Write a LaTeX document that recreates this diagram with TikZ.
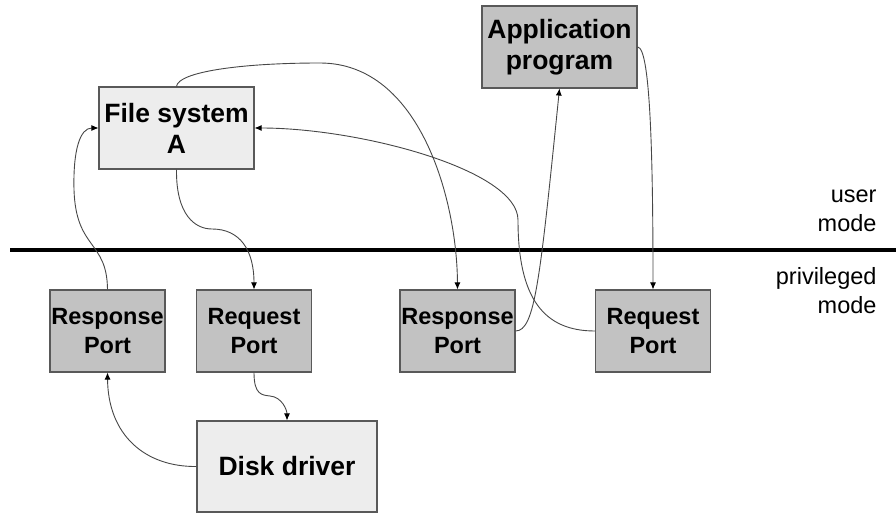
\documentclass[tikz,border=0pt]{standalone}
\usepackage{fontspec}
\setmainfont{Liberation Sans}
\usetikzlibrary{arrows.meta}
\begin{document}
\begin{tikzpicture}[x=1pt,y=-1pt,
  box/.style={draw=black!65,line width=1.1pt,inner sep=0pt,align=center,
    font=\fontsize{26.5}{31}\selectfont\bfseries},
  light/.style={box,fill=black!7},
  dark/.style={box,fill=black!24},
  port/.style={dark,minimum width=115pt,minimum height=82pt,
    font=\fontsize{23.5}{29}\selectfont\bfseries},
  modetext/.style={anchor=east,align=right,font=\fontsize{23.5}{29}\selectfont},
  link/.style={draw=black!72,line width=0.9pt,
    -{Latex[length=7pt,width=6pt,color=black]}}]
\useasboundingbox (0,0) rectangle (896,513);

% user / privileged boundary
\draw[line width=4pt] (10,250) -- (896,250);
\node[modetext] (um) at (880,211) {user\\mode};
\node[modetext] (pm) at (880,291) {privileged\\mode};

% boxes
\node[light,minimum width=155pt,minimum height=82pt] (fs) at (176.5,128) {File system\\A};
\node[dark,minimum width=155pt,minimum height=82pt] (app) at (559.5,47) {Application\\program};
\node[port] (rsL) at (107.5,331) {Response\\Port};
\node[port] (rqL) at (254,331) {Request\\Port};
\node[port] (rsR) at (457.5,331) {Response\\Port};
\node[port] (rqR) at (653,331) {Request\\Port};
\node[light,minimum width=180pt,minimum height=91pt] (dd) at (287,466.5) {Disk driver};

% connectors
\draw[link] (rsL.north) .. controls (107,240) and (76,250) .. (74,190)
  .. controls (73,150) and (80,128) .. (fs.west);
\draw[link] (fs.south) .. controls (176,215) and (195,229) .. (212,229)
  .. controls (240,229) and (254,250) .. (rqL.north);
\draw[link] (fs.north) .. controls (178,72) and (240,63) .. (320,63)
  .. controls (420,63) and (457,200) .. (rsR.north);
\draw[link] (rqR.west) .. controls (545,331) and (518,300) .. (518,220)
  .. controls (518,170) and (360,128) .. (fs.east);
\draw[link] (rsR.east) .. controls (535,331) and (540,280) .. (app.south);
\draw[link] (app.east) .. controls (650,47) and (653,150) .. (rqR.north);
\draw[link] (rqL.south) .. controls (254,395) and (262,395) .. (270,396)
  .. controls (282,397) and (287,410) .. (dd.north);
\draw[link] (dd.west) .. controls (145,467) and (108,435) .. (rsL.south);
\end{tikzpicture}
\end{document}
